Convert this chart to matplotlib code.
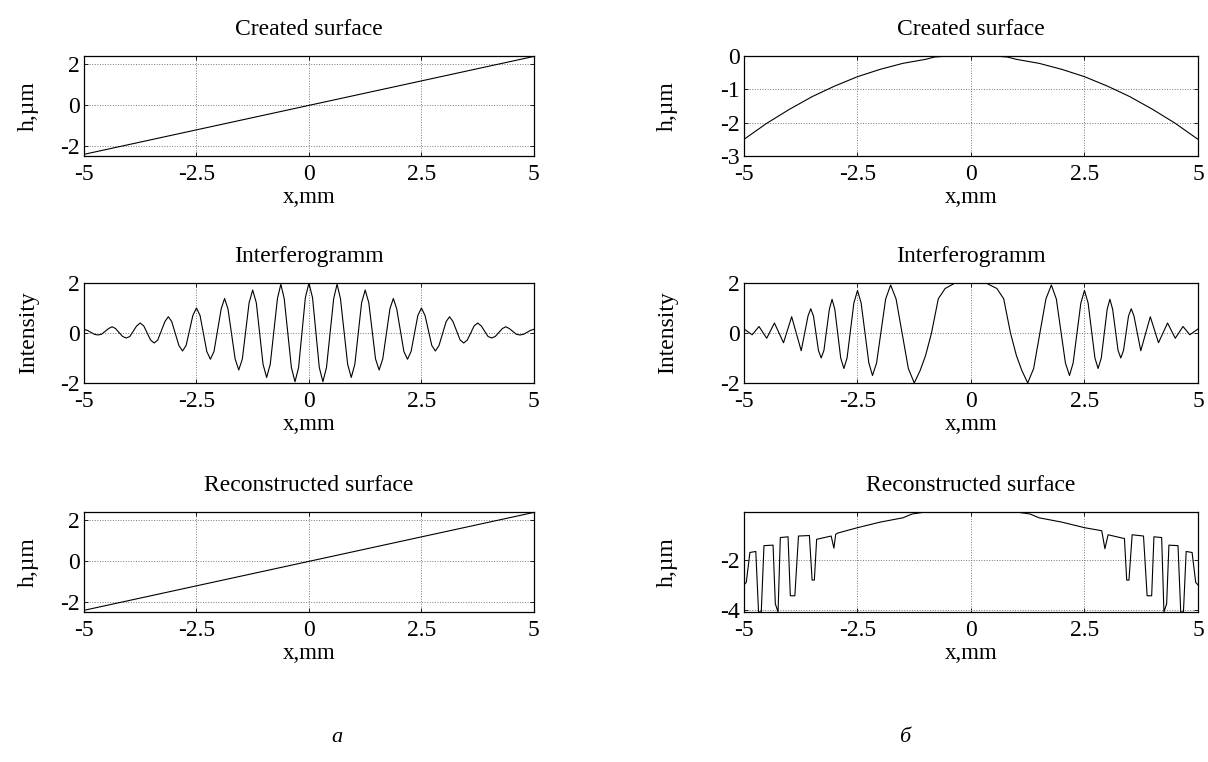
import matplotlib
matplotlib.use("Agg")
import matplotlib.pyplot as plt

plt.rcParams['font.family'] = ['Liberation Serif', 'DejaVu Serif']
plt.rcParams['axes.unicode_minus'] = False

# ---- data ----
x_span = [-5, 5]
x_ticks = [-5, -2.5, 0, 2.5, 5]
x_ticklabels = ['-5', '-2.5', '0', '2.5', '5']

# (a) tilted plane
h_tilt = [-2.42, 2.38]

# (b) parabola
x_par = [-5, -4.5, -4, -3.5, -3, -2.5, -2, -1.5, -1, -0.8, -0.5, 0,
         0.5, 0.8, 1, 1.5, 2, 2.5, 3, 3.5, 4, 4.5, 5]
h_par = [-2.5, -2.02, -1.6, -1.22, -0.9, -0.62, -0.4, -0.22, -0.1, -0.03, 0, 0,
         0, -0.03, -0.1, -0.22, -0.4, -0.62, -0.9, -1.22, -1.6, -2.02, -2.5]

# (a) interferogram: extrema and their shoulders
x_int_a = [-5, -4.92, -4.77, -4.69, -4.61, -4.45, -4.375, -4.3, -4.14, -4.06,
           -3.98, -3.83, -3.75, -3.67, -3.52, -3.44, -3.36, -3.2, -3.125, -3.05,
           -2.89, -2.81, -2.73, -2.58, -2.5, -2.42, -2.27, -2.19, -2.11, -1.95,
           -1.875, -1.8, -1.64, -1.56, -1.48, -1.33, -1.25, -1.17, -1.02, -0.94,
           -0.86, -0.7, -0.625, -0.55, -0.39, -0.31, -0.23, -0.08, 0,
           0.08, 0.23, 0.31, 0.39, 0.55, 0.625, 0.7, 0.86, 0.94, 1.02,
           1.17, 1.25, 1.33, 1.48, 1.56, 1.64, 1.8, 1.875, 1.95, 2.11,
           2.19, 2.27, 2.42, 2.5, 2.58, 2.73, 2.81, 2.89, 3.05, 3.125,
           3.2, 3.36, 3.44, 3.52, 3.67, 3.75, 3.83, 3.98, 4.06, 4.14,
           4.3, 4.375, 4.45, 4.61, 4.69, 4.77, 4.92, 5]
i_int_a = [0.15, 0.1, -0.05, -0.08, -0.05, 0.18, 0.25, 0.18, -0.14, -0.2,
           -0.14, 0.28, 0.4, 0.28, -0.28, -0.4, -0.28, 0.46, 0.65, 0.46,
           -0.5, -0.72, -0.5, 0.7, 1.0, 0.7, -0.74, -1.05, -0.74, 0.97,
           1.38, 0.97, -1.04, -1.48, -1.04, 1.21, 1.72, 1.21, -1.25, -1.78,
           -1.25, 1.38, 1.95, 1.38, -1.38, -1.95, -1.38, 1.41, 2.0,
           1.41, -1.38, -1.95, -1.38, 1.38, 1.95, 1.38, -1.25, -1.78, -1.25,
           1.21, 1.72, 1.21, -1.04, -1.48, -1.04, 0.97, 1.38, 0.97, -0.74,
           -1.05, -0.74, 0.7, 1.0, 0.7, -0.5, -0.72, -0.5, 0.46, 0.65,
           0.46, -0.28, -0.4, -0.28, 0.28, 0.4, 0.28, -0.14, -0.2, -0.14,
           0.18, 0.25, 0.18, -0.05, -0.08, -0.05, 0.1, 0.15]

# (b) interferogram: chirped fringes
x_int_b = [-5, -4.82, -4.67, -4.5, -4.33, -4.13, -3.95, -3.74,
           -3.59, -3.53, -3.47, -3.36, -3.3, -3.24, -3.12, -3.06, -3.0,
           -2.87, -2.8, -2.73, -2.58, -2.5, -2.42, -2.25, -2.17, -2.08,
           -1.88, -1.77, -1.65, -1.38, -1.25, -1.12, -1.0, -0.87, -0.72,
           -0.57, -0.35, 0.33, 0.57, 0.72, 0.87, 1.0, 1.12, 1.25, 1.38,
           1.65, 1.77, 1.88, 2.08, 2.17, 2.25, 2.42, 2.5, 2.58,
           2.73, 2.8, 2.87, 3.0, 3.06, 3.12, 3.24, 3.3, 3.36,
           3.47, 3.53, 3.59, 3.74, 3.95, 4.13, 4.33, 4.5, 4.67, 4.82, 5]
i_int_b = [0.16, -0.07, 0.26, -0.21, 0.4, -0.39, 0.65, -0.71,
           0.68, 0.97, 0.68, -0.7, -1.0, -0.7, 0.95, 1.35, 0.95,
           -1.0, -1.42, -1.0, 1.2, 1.7, 1.2, -1.2, -1.7, -1.2,
           1.36, 1.92, 1.36, -1.42, -2.0, -1.5, -0.9, 0.0, 1.37,
           1.78, 2.0, 2.0, 1.78, 1.37, 0.0, -0.9, -1.5, -2.0, -1.42,
           1.36, 1.92, 1.36, -1.2, -1.7, -1.2, 1.2, 1.7, 1.2,
           -1.0, -1.42, -1.0, 0.95, 1.35, 0.95, -0.7, -1.0, -0.7,
           0.68, 0.97, 0.68, -0.71, 0.65, -0.39, 0.4, -0.21, 0.26, -0.07, 0.16]

# (b) reconstructed surface with unwrapping jumps
x_rec_b = [-5.0, -4.95, -4.87, -4.74, -4.68, -4.62, -4.56, -4.36, -4.31, -4.25,
           -4.2, -4.03, -3.98, -3.88, -3.8, -3.56, -3.5, -3.45, -3.4, -3.08,
           -3.02, -2.98, -2.93, -2.5, -2.0, -1.5, -1.3, -1.0, 1.0, 1.3, 1.5,
           2.0, 2.5, 2.88, 2.95, 3.02, 3.38, 3.43, 3.48, 3.55, 3.8, 3.88, 3.98,
           4.03, 4.2, 4.25, 4.31, 4.36, 4.56, 4.62, 4.68, 4.74, 4.87, 4.95, 5.0]
h_rec_b = [-3.0, -2.9, -1.72, -1.68, -4.07, -4.07, -1.45, -1.43, -3.75, -4.07,
           -1.13, -1.1, -3.43, -3.43, -1.07, -1.05, -2.81, -2.81, -1.2, -1.07,
           -1.55, -1.0, -0.95, -0.74, -0.52, -0.35, -0.2, -0.12, -0.12, -0.2, -0.35,
           -0.52, -0.74, -0.86, -1.57, -1.02, -1.17, -2.81, -2.81, -1.02, -1.07,
           -3.43, -3.43, -1.1, -1.13, -4.07, -3.75, -1.43, -1.45, -4.07, -4.07,
           -1.68, -1.72, -2.9, -3.0]

LEFT = [0.0695, 0.3725]
RIGHT = [0.6159, 0.3758]
ROWS = [0.7953, 0.4974, 0.1969]
ROW_H = 0.1312


def matlab_axes(fig, col, row, title, ylabel, ylab_x):
    ax = fig.add_axes([col[0], ROWS[row], col[1], ROW_H])
    ax.set_title(title, pad=15, fontsize=17)
    ax.set_xlabel('x,mm', fontsize=16.5)
    ax.xaxis.set_label_coords(0.5, -0.31)
    ax.set_ylabel(ylabel, fontsize=17)
    ax.yaxis.set_label_coords(ylab_x, 0.5)
    ax.set_xlim(x_span)
    ax.set_xticks(x_ticks)
    ax.set_xticklabels(x_ticklabels)
    ax.tick_params(direction='in', top=True, right=True, length=3, width=0.6,
                   labelsize=17)
    ax.tick_params(axis='x', pad=6)
    ax.tick_params(axis='y', pad=3)
    ax.grid(True, linestyle=':', color='#777777', linewidth=0.7)
    for s in ax.spines.values():
        s.set_linewidth(0.9)
    return ax


fig = plt.figure(figsize=(12.08, 7.62), dpi=100)

# column a
ax = matlab_axes(fig, LEFT, 0, 'Created surface', 'h,µm', -0.10)
ax.plot(x_span, h_tilt, color='black', linewidth=0.8)
ax.set_ylim(-2.5, 2.4)
ax.set_yticks([-2, 0, 2])

ax = matlab_axes(fig, LEFT, 1, 'Interferogramm', 'Intensity', -0.10)
ax.plot(x_int_a, i_int_a, color='black', linewidth=0.8)
ax.set_ylim(-2, 2)
ax.set_yticks([-2, 0, 2])

ax = matlab_axes(fig, LEFT, 2, 'Reconstructed surface', 'h,µm', -0.10)
ax.plot(x_span, h_tilt, color='black', linewidth=0.8)
ax.set_ylim(-2.5, 2.4)
ax.set_yticks([-2, 0, 2])

# column b
ax = matlab_axes(fig, RIGHT, 0, 'Created surface', 'h,µm', -0.145)
ax.plot(x_par, h_par, color='black', linewidth=0.8)
ax.set_ylim(-3, 0)
ax.set_yticks([-3, -2, -1, 0])

ax = matlab_axes(fig, RIGHT, 1, 'Interferogramm', 'Intensity', -0.145)
ax.plot(x_int_b, i_int_b, color='black', linewidth=0.8)
ax.set_ylim(-2, 2)
ax.set_yticks([-2, 0, 2])

ax = matlab_axes(fig, RIGHT, 2, 'Reconstructed surface', 'h,µm', -0.145)
ax.plot(x_rec_b, h_rec_b, color='black', linewidth=0.8)
ax.set_ylim(-4.07, -0.12)
ax.set_yticks([-4, -2])

fig.text(337 / 1208, 1 - 737 / 762, 'a', style='italic', fontsize=16, ha='center', va='center')
fig.text(905 / 1208, 1 - 737 / 762, 'б', style='italic', fontsize=16, ha='center', va='center')

fig.savefig('out.png', dpi=100)
